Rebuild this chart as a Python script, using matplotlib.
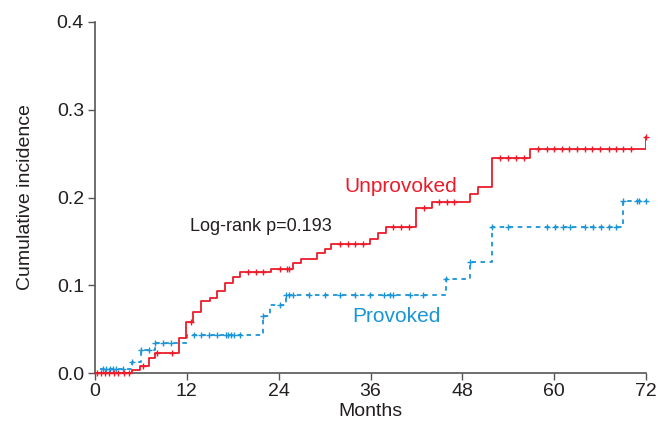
import numpy as np
import matplotlib
matplotlib.use("Agg")
import matplotlib.pyplot as plt

plt.rcParams['font.family'] = ['Liberation Sans', 'DejaVu Sans']

# Unprovoked: step times (months) and cumulative incidence
unprov_t = [0, 4.9, 5.9, 7.0, 7.8, 11.0, 11.9, 12.8, 13.9, 15.0, 15.9, 17.0, 18.0,
            18.9, 23.0, 25.9, 26.9, 29.0, 30.1, 30.9, 35.9, 37.0, 38.0, 42.0, 44.0,
            49.0, 50.0, 51.9, 56.9, 72.0]
unprov_y = [0, 0.003, 0.008, 0.017, 0.023, 0.040, 0.058, 0.070, 0.082, 0.085, 0.094,
            0.103, 0.109, 0.115, 0.119, 0.125, 0.130, 0.137, 0.141, 0.147, 0.153,
            0.160, 0.166, 0.188, 0.195, 0.204, 0.212, 0.245, 0.255, 0.269]
unprov_cens = [0.3, 0.8, 1.3, 1.8, 2.5, 3.0, 3.8, 4.5, 6.3, 8.1, 10.0, 12.6,
               20.0, 21.0, 21.9, 24.2, 25.1, 25.4, 32.0, 33.0, 34.0, 35.0,
               38.9, 40.0, 41.0, 43.0, 45.0, 46.0, 46.9, 52.9, 54.0, 55.0, 56.0,
               57.9, 59.0, 60.0, 61.0, 62.0, 63.0, 64.0, 65.0, 66.0, 67.1, 68.1,
               69.0, 70.0, 72.0]

# Provoked
prov_t = [0, 0.5, 4.9, 6.0, 7.9, 12.0, 22.0, 22.9, 24.9, 45.9, 49.0, 51.9, 69.0, 72.0]
prov_y = [0, 0.005, 0.012, 0.026, 0.034, 0.043, 0.065, 0.077, 0.089, 0.107, 0.126,
          0.166, 0.196, 0.196]
prov_cens = [1.0, 1.5, 2.0, 2.4, 2.8, 3.7, 4.9, 6.0, 7.0, 7.9, 8.9, 9.9, 13.0, 13.9,
             14.9, 15.9, 17.1, 17.4, 17.8, 18.1, 19.0, 22.0, 24.2, 25.0, 25.4, 25.9,
             27.9, 30.1, 32.0, 34.0, 35.9, 37.8, 38.5, 39.0, 41.2, 42.9, 45.9, 49.0,
             51.9, 54.0, 59.0, 60.1, 61.1, 62.1, 64.0, 65.1, 66.1, 67.1, 68.1, 69.0,
             70.8, 71.1, 72.0]

red = '#ec1c2b'
blue = '#1a95d5'
dark = '#231f20'


def level_at(ts, ys, x):
    idx = np.searchsorted(ts, x, side='right') - 1
    return np.array(ys)[idx]


fig = plt.figure(figsize=(6.61, 4.38), dpi=100)
ax = fig.add_axes([95 / 661, 1 - 373 / 438, 551 / 661, 351 / 438])

ax.step(unprov_t, unprov_y, where='post', color=red, lw=1.3, zorder=3)
ax.plot(unprov_cens, level_at(unprov_t, unprov_y, unprov_cens), ls='none',
        marker='+', ms=4, mew=1.0, color=red, zorder=3, clip_on=False)

ax.step(prov_t, prov_y, where='post', color=blue, lw=1.3, ls=(0, (2.5, 2.5)), zorder=2)
ax.plot(prov_cens, level_at(prov_t, prov_y, prov_cens), ls='none',
        marker='+', ms=4, mew=1.0, color=blue, zorder=2, clip_on=False)

ax.set_xlim(0, 72)
ax.set_ylim(0, 0.4)
ax.set_xticks(np.arange(0, 73, 12))
ax.set_yticks([0.0, 0.1, 0.2, 0.3, 0.4])
ax.set_yticklabels(['0.0', '0.1', '0.2', '0.3', '0.4'])
for s in ['top', 'right']:
    ax.spines[s].set_visible(False)
for s in ['left', 'bottom']:
    ax.spines[s].set_color('#555555')
    ax.spines[s].set_linewidth(1.2)
ax.tick_params(direction='out', length=5, width=1.0, color='#555555',
               labelsize=14, labelcolor=dark)
ax.tick_params(axis='x', pad=2)
ax.tick_params(axis='y', pad=3)

ax.set_xlabel('Months', fontsize=14, color=dark, labelpad=2)
ax.set_ylabel('Cumulative incidence', fontsize=14, color=dark, labelpad=16)

ax.text(12.4, 0.1675, 'Log-rank p=0.193', fontsize=13, color=dark, va='center')
ax.text(32.6, 0.213, 'Unprovoked', fontsize=15, color=red, va='center')
ax.text(33.6, 0.064, 'Provoked', fontsize=15, color=blue, va='center')

fig.savefig('out.png', dpi=100)
